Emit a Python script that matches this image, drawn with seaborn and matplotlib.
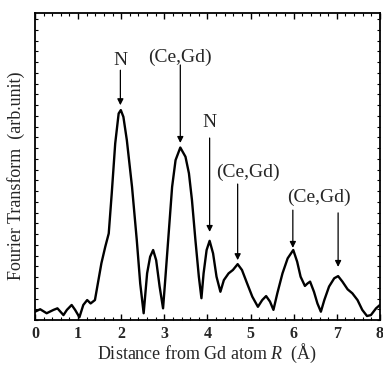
import matplotlib
matplotlib.use("Agg")
import matplotlib.pyplot as plt
import seaborn as sns
import pandas as pd
from matplotlib.ticker import MultipleLocator

# distance R (Å) and Fourier transform magnitude (arb. unit, 0..100 scale)
r_values = [0.00, 0.12, 0.27, 0.43, 0.52, 0.66, 0.74, 0.85, 0.93, 1.03, 1.12, 1.21, 1.29,
            1.39, 1.54, 1.63, 1.71, 1.78, 1.86, 1.94, 1.99, 2.05, 2.13, 2.25, 2.36, 2.44,
            2.52, 2.60, 2.67, 2.74, 2.81, 2.89, 2.97, 3.02, 3.10, 3.18, 3.26, 3.37, 3.49,
            3.57, 3.64, 3.72, 3.80, 3.86, 3.91, 3.98, 4.05, 4.13, 4.21, 4.30, 4.38, 4.49,
            4.59, 4.70, 4.80, 4.92, 5.04, 5.17, 5.27, 5.36, 5.45, 5.53, 5.62, 5.74, 5.86,
            5.99, 6.08, 6.16, 6.26, 6.32, 6.38, 6.47, 6.55, 6.63, 6.71, 6.82, 6.94, 7.03,
            7.13, 7.25, 7.36, 7.48, 7.59, 7.70, 7.79, 7.91, 8.00]
ft_values = [2.7, 3.5, 2.2, 3.3, 3.8, 1.6, 3.3, 4.9, 3.3, 0.9, 4.9, 6.5, 5.4,
             6.5, 18.5, 23.9, 28.2, 41.3, 57.5, 67.3, 68.4, 66.2, 58.6, 43.4, 26.1, 11.9,
             2.2, 15.2, 20.6, 22.8, 19.5, 10.9, 3.8, 13.0, 28.2, 43.4, 52.1, 56.2, 53.2,
             47.8, 39.1, 26.1, 14.1, 7.1, 15.2, 22.8, 25.8, 21.7, 14.1, 9.2, 13.0, 15.2,
             16.3, 18.2, 16.3, 11.9, 7.6, 4.3, 6.5, 7.8, 6.0, 3.3, 8.7, 15.2, 20.1,
             22.8, 19.0, 14.1, 11.1, 11.9, 12.5, 9.2, 5.4, 2.7, 6.5, 10.9, 13.6, 14.3,
             12.5, 10.0, 8.7, 6.5, 3.3, 1.3, 1.6, 3.8, 4.9]

# peak labels: text, text position, arrows (x, tail y, head y)
label_texts = ["N", "(Ce,Gd)", "N", "(Ce,Gd)", "(Ce,Gd)"]
label_x = [1.98, 3.37, 4.05, 4.93, 6.58]
label_y = [84.7, 85.7, 64.2, 48.2, 40.1]
arrow_x = [1.98, 3.37, 4.05, 4.70, 5.98, 7.03]
arrow_tail = [81.4, 83.1, 59.3, 44.3, 35.8, 34.9]
arrow_head = [70.0, 57.7, 28.7, 19.5, 23.5, 17.3]

x_ticks = [0, 1, 2, 3, 4, 5, 6, 7, 8]

sns.set_theme(style="ticks")
plt.rcParams['font.family'] = ['Liberation Serif', 'DejaVu Serif']
plt.rcParams['mathtext.fontset'] = 'custom'
plt.rcParams['mathtext.rm'] = 'Liberation Serif'
plt.rcParams['mathtext.it'] = 'Liberation Serif:italic'

df = pd.DataFrame({"R": r_values, "FT": ft_values})

fig = plt.figure(figsize=(3.83, 3.65), dpi=100)
ax = fig.add_axes([0.0914, 0.1233, 0.9006, 0.8407])
sns.lineplot(data=df, x="R", y="FT", ax=ax, color="black", linewidth=1.7)

ax.set_xlim(0, 8)
ax.set_ylim(0, 100)
ax.set_xticks(x_ticks)
ax.set_xticklabels([str(t) for t in x_ticks], fontsize=11.5, fontweight="bold")
ax.xaxis.set_minor_locator(MultipleLocator(0.2))
ax.set_yticks([])
ax.yaxis.set_minor_locator(MultipleLocator(3.5))
ax.tick_params(axis="both", which="both", direction="in", top=True, right=True,
               color="black")
ax.tick_params(axis="both", which="major", length=4, width=1, pad=4)
ax.tick_params(axis="both", which="minor", length=2.5, width=0.8)
for s in ax.spines.values():
    s.set_color("black")
    s.set_linewidth(1.3)

ax.set_xlabel("Distance from Gd atom $R$  (Å)", fontsize=13, labelpad=0)
ax.set_ylabel("Fourier Transform  (arb.unit)", fontsize=13)
ax.yaxis.set_label_coords(-0.03, 0.47)

for t, tx, ty in zip(label_texts, label_x, label_y):
    ax.text(tx, ty, t, ha="center", va="center", fontsize=14)
for axx, yt, yh in zip(arrow_x, arrow_tail, arrow_head):
    ax.annotate("", xy=(axx, yh), xytext=(axx, yt),
                arrowprops=dict(arrowstyle="-|>", color="black", lw=0.9,
                                mutation_scale=9, shrinkA=0, shrinkB=0))

fig.savefig("out.png", dpi=100)
